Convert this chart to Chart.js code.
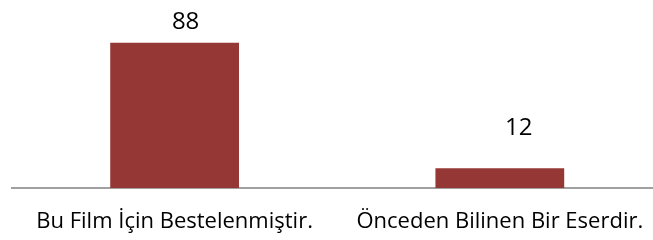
<!DOCTYPE html>
<html>
<head>
<meta charset="utf-8">
<script src="https://cdn.jsdelivr.net/npm/chart.js@4.4.1/dist/chart.umd.min.js"></script>
<style>
  html, body { margin: 0; padding: 0; background: #fff; overflow: hidden; }
  #wrap { width: 664px; height: 256px; }
</style>
</head>
<body>
<div id="wrap"><canvas id="myChart" width="664" height="256"></canvas></div>
<script>
// data
const categories = ['Bu Film İçin Bestelenmiştir.', 'Önceden Bilinen Bir Eserdir.'];
const values = [88, 12];

// value labels drawn above bars
const valueLabels = {
  id: 'valueLabels',
  afterDatasetsDraw(chart, args, opts) {
    const ctx = chart.ctx;
    const meta = chart.getDatasetMeta(0);
    ctx.save();
    ctx.font = opts.font;
    ctx.fillStyle = '#000';
    ctx.textAlign = 'center';
    ctx.textBaseline = 'alphabetic';
    meta.data.forEach(function (bar, i) {
      const off = opts.offsets[i];
      ctx.fillText(chart.data.datasets[0].data[i], bar.x + off[0], bar.y - off[1]);
    });
    ctx.restore();
  }
};

new Chart(document.getElementById('myChart'), {
  type: 'bar',
  data: {
    labels: categories,
    datasets: [{
      data: values,
      backgroundColor: '#953735',
      borderWidth: 0,
      barPercentage: 0.396,
      categoryPercentage: 1
    }]
  },
  options: {
    responsive: false,
    animation: false,
    layout: { padding: { left: 12, right: 0, top: 23, bottom: 0 } },
    plugins: {
      legend: { display: false },
      tooltip: { enabled: false },
      valueLabels: {
        font: '24px "Open Sans"',
        offsets: [[11, 14], [19, 33]]
      }
    },
    scales: {
      x: {
        grid: { display: false, drawTicks: false },
        border: { display: true, color: '#a0a0a0', width: 2 },
        ticks: {
          color: '#000',
          font: { family: 'Open Sans', size: 22 },
          padding: 20.8,
          maxRotation: 0
        }
      },
      y: {
        display: false,
        min: 0,
        max: 100
      }
    }
  },
  plugins: [valueLabels]
});
</script>
</body>
</html>
